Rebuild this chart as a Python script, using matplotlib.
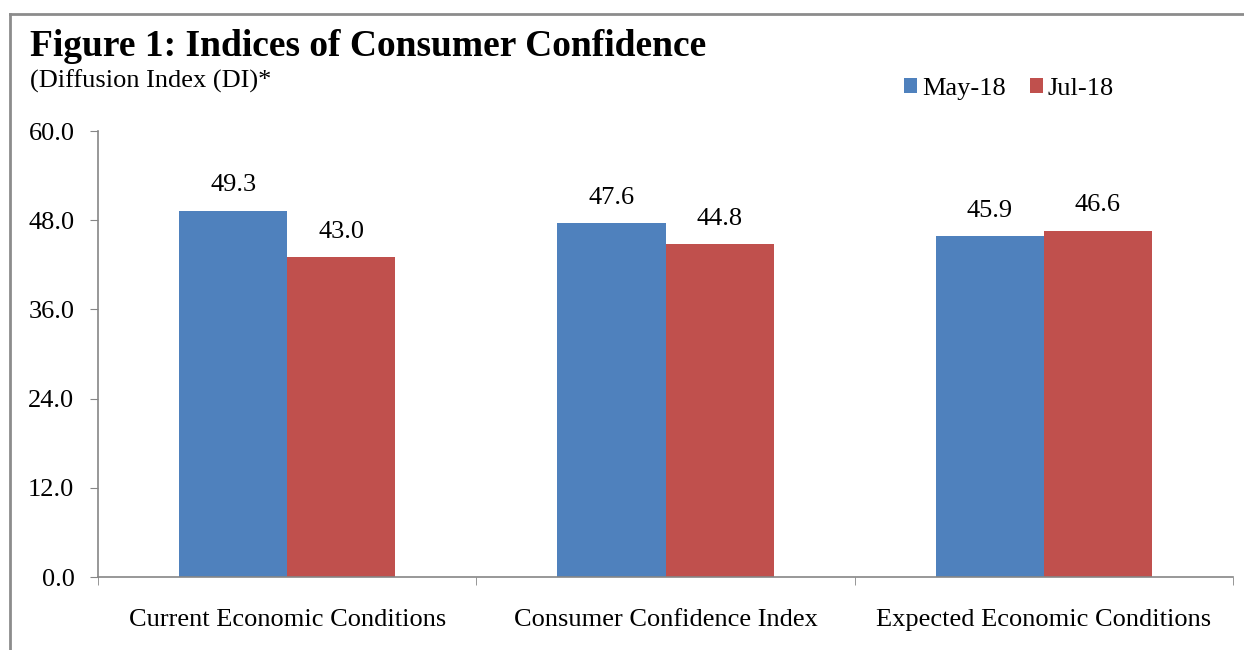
import numpy as np
import matplotlib.pyplot as plt
from matplotlib.lines import Line2D

categories = ['Current Economic Conditions', 'Consumer Confidence Index', 'Expected Economic Conditions']
may18 = [49.3, 47.6, 45.9]
jul18 = [43.0, 44.8, 46.6]
series_names = ['May-18', 'Jul-18']
yticks = [0, 12, 24, 36, 48, 60]

plt.rcParams['font.family'] = ['Liberation Serif', 'DejaVu Serif']

fig = plt.figure(figsize=(12.44, 6.5), dpi=100)
W, H = 1244, 650
ax = fig.add_axes([98 / W, 1 - 577 / H, (1233 - 98) / W, (577 - 131) / H])

x = np.arange(len(categories))
w = 0.286
b1 = ax.bar(x - w / 2, may18, w, color='#4F81BD', label=series_names[0])
b2 = ax.bar(x + w / 2, jul18, w, color='#C0504D', label=series_names[1])

for bars, vals in [(b1, may18), (b2, jul18)]:
    for r, v in zip(bars, vals):
        ax.text(r.get_x() + r.get_width() / 2, v + 1.9, f'{v:.1f}',
                ha='center', va='bottom', fontsize=19)

ax.set_xlim(-0.5, len(categories) - 0.5)
ax.set_ylim(0, 60)
ax.set_yticks(yticks)
ax.set_yticklabels([f'{t:.1f}' for t in yticks], fontsize=19)
ax.set_xticks(x)
ax.set_xticklabels(categories, fontsize=19)
ax.tick_params(axis='x', length=0, pad=23)
ax.tick_params(axis='y', length=6, color='#868686', pad=11)
# category boundary ticks
ax.set_xticks(np.arange(len(categories) + 1) - 0.5, minor=True)
ax.tick_params(axis='x', which='minor', length=6, color='#868686', direction='out')

for s in ['top', 'right']:
    ax.spines[s].set_visible(False)
for s in ['left', 'bottom']:
    ax.spines[s].set_color('#868686')
    ax.spines[s].set_linewidth(1.2)

ax.legend(loc='center left', bbox_to_anchor=(893 / W, 1 - 89 / H), bbox_transform=fig.transFigure,
          ncol=2, frameon=False, fontsize=19, handlelength=0.5, handleheight=0.5,
          handletextpad=0.2, columnspacing=0.9, borderaxespad=0)

fig.text(30 / W, 1 - 47 / H, 'Figure 1: Indices of Consumer Confidence',
         fontsize=27, fontweight='bold', va='center')
fig.text(30 / W, 1 - 81 / H, '(Diffusion Index (DI)*', fontsize=19, va='center')

# outer frame (left and top)
fig.add_artist(Line2D([9.5 / W, 9.5 / W], [0, 1 - 14 / H], transform=fig.transFigure,
                      color='#8c8c8c', lw=2))
fig.add_artist(Line2D([9.5 / W, 1], [1 - 14 / H, 1 - 14 / H], transform=fig.transFigure,
                      color='#8c8c8c', lw=2))

fig.savefig('out.png', dpi=100)
